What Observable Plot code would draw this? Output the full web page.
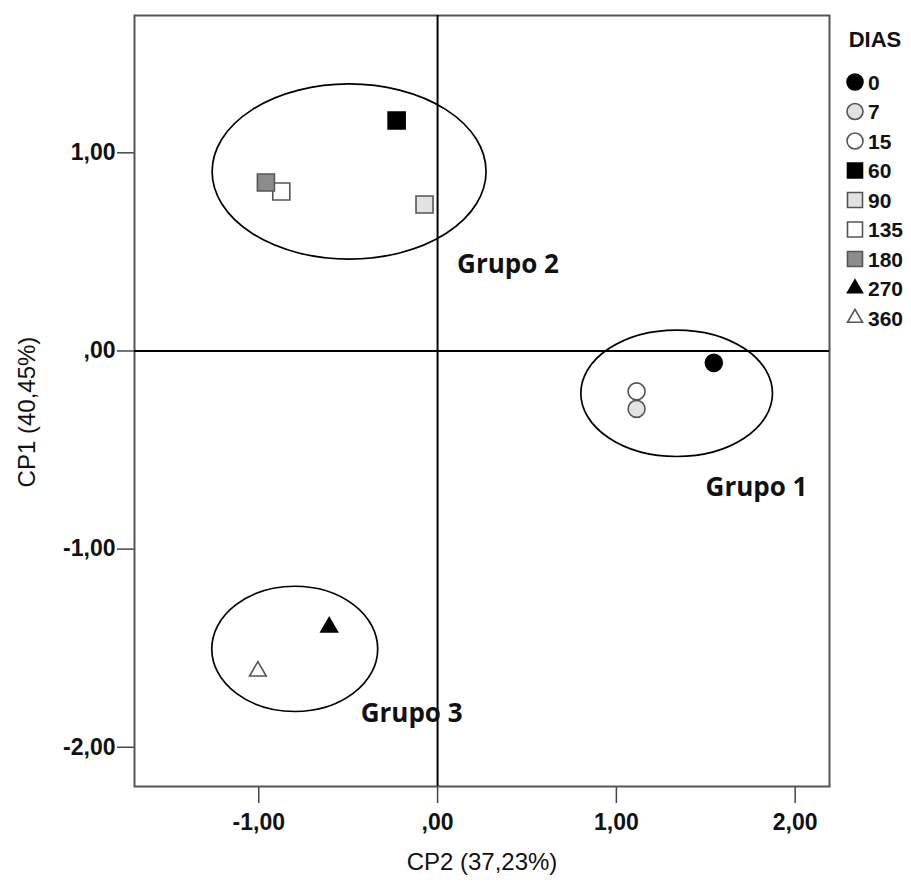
<!DOCTYPE html>
<html><head><meta charset="utf-8">
<script src="https://cdn.jsdelivr.net/npm/d3@7"></script>
<script src="https://cdn.jsdelivr.net/npm/@observablehq/plot@0.6"></script>
<style>
body{margin:0;background:#fff}
#chart{position:relative;width:911px;height:884px}
#legend{position:absolute;left:0;top:0;pointer-events:none}
</style>
</head><body><div id="chart"></div>
<script>
// Points (DIAS)
const dias = ["0","7","15","60","90","135","180","270","360"];
const cp2 = [1.545, 1.113, 1.113, -0.229, -0.073, -0.874, -0.960, -0.606, -1.005];
const cp1 = [-0.060, -0.292, -0.204, 1.163, 0.739, 0.805, 0.850, -1.394, -1.616];
const formas = ["circle","circle","circle","square","square","square","square","triangle","triangle"];
const rellenos = ["#000000","#e2e2e2","#ffffff","#000000","#e2e2e2","#ffffff","#8c8c8c","#000000","#ffffff"];
// Groups (ellipses, data units)
const grupos = ["Grupo 1","Grupo 2","Grupo 3"];
const elipseCx = [1.340, -0.492, -0.796];
const elipseCy = [-0.216, 0.903, -1.506];
const elipseRx = [0.536, 0.766, 0.464];
const elipseRy = [0.319, 0.442, 0.316];
const etiquetaX = [1.784, 0.394, -0.145];
const etiquetaY = [-0.690, 0.434, -1.829];
// Axes
const xTicks = [-1, 0, 1, 2];
const yTicks = [-2, -1, 0, 1];
const xTitulo = "CP2 (37,23%)";
const yTitulo = "CP1 (40,45%)";
const legendaTitulo = "DIAS";

const fmt = d => d === 0 ? ",00" : d.toFixed(2).replace(".", ",");
const rSimbolo = {circle: 8.5, square: 9.6, triangle: 6.2};

const puntos = dias.map((d, i) => ({dia: d, cp2: cp2[i], cp1: cp1[i], forma: formas[i], relleno: rellenos[i]}));
const elipses = grupos.map((g, i) => ({g, cx: elipseCx[i], cy: elipseCy[i], rx: elipseRx[i], ry: elipseRy[i]}));

function elipseMark(index, scales) {
  const g = d3.create("svg:g");
  for (const e of elipses) {
    g.append("ellipse")
      .attr("cx", scales.x(e.cx)).attr("cy", scales.y(e.cy))
      .attr("rx", Math.abs(scales.x(e.cx + e.rx) - scales.x(e.cx)))
      .attr("ry", Math.abs(scales.y(e.cy + e.ry) - scales.y(e.cy)))
      .attr("fill", "none").attr("stroke", "#000").attr("stroke-width", 1.7);
  }
  return g.node();
}

const dotMarks = puntos.map(p => Plot.dot([p], {
  x: "cp2", y: "cp1", symbol: p.forma, r: rSimbolo[p.forma],
  fill: p.relleno, stroke: p.relleno === "#000000" ? "#000" : "#555", strokeWidth: 1.6
}));

const hasAxis = typeof Plot.axisX === "function";
const axisFont = {fontSize: 23, fontWeight: "bold", fill: "#111"};
const axisMarks = hasAxis ? [
  Plot.axisX({ticks: xTicks, tickFormat: fmt, tickSize: 17, tickPadding: 10, label: null, stroke: "#444", strokeWidth: 1.5, ...axisFont}),
  Plot.axisY({ticks: yTicks, tickFormat: fmt, tickSize: 17, tickPadding: 2, label: null, stroke: "#444", strokeWidth: 1.5, ...axisFont})
] : [];

const plot = Plot.plot({
  width: 911, height: 884,
  marginLeft: 134, marginRight: 82, marginTop: 15, marginBottom: 98,
  style: {fontFamily: "'Liberation Sans', Arial, sans-serif", fontSize: "23px", fontWeight: "bold", color: "#000", background: "#fff", overflow: "visible"},
  x: hasAxis ? {domain: [-1.695, 2.192], axis: null}
             : {domain: [-1.695, 2.192], ticks: xTicks, tickFormat: fmt, tickSize: 17, tickPadding: 10, label: null},
  y: hasAxis ? {domain: [-2.198, 1.693], axis: null}
             : {domain: [-2.198, 1.693], ticks: yTicks, tickFormat: fmt, tickSize: 17, tickPadding: 2, label: null},
  marks: [
    ...axisMarks,
    Plot.frame({stroke: "#555", strokeWidth: 2}),
    elipseMark,
    Plot.ruleX([0], {stroke: "#000", strokeWidth: 2}),
    Plot.ruleY([0], {stroke: "#000", strokeWidth: 2}),
    ...dotMarks,
    Plot.text(grupos, {x: (d, i) => etiquetaX[i], y: (d, i) => etiquetaY[i], text: d => d,
      fontFamily: "'Open Sans', sans-serif", fontSize: 26, fontWeight: "bold", fill: "#111"}),
    Plot.text([xTitulo], {text: d => d, frameAnchor: "bottom", dy: 76, lineAnchor: "middle", textAnchor: "middle",
      fontSize: 24, fontWeight: "normal", fill: "#111"}),
    Plot.text([yTitulo], {text: d => d, frameAnchor: "left", dx: -107, dy: 11, rotate: -90, lineAnchor: "middle", textAnchor: "middle",
      fontSize: 24, fontWeight: "normal", fill: "#111"})
  ]
});
document.getElementById("chart").appendChild(plot);

// Legend
const tipos = {circle: d3.symbolCircle, square: d3.symbolSquare, triangle: d3.symbolTriangle};
const areas = {circle: Math.PI * 64, square: 225, triangle: 97};
const leg = d3.select("#chart").append("svg").attr("id", "legend").attr("width", 911).attr("height", 884)
  .style("font-family", "'Liberation Sans', Arial, sans-serif").style("font-weight", "bold");
leg.append("text").attr("x", 875).attr("y", 47).attr("text-anchor", "middle").attr("font-size", 22).attr("fill", "#111").text(legendaTitulo);
puntos.forEach((p, i) => {
  const cy = 82 + i * 29.5;
  leg.append("path").attr("transform", `translate(855,${cy})`)
    .attr("d", d3.symbol(tipos[p.forma], areas[p.forma])())
    .attr("fill", p.relleno).attr("stroke", p.relleno === "#000000" ? "#000" : "#555").attr("stroke-width", 1.6);
  leg.append("text").attr("x", 868).attr("y", cy + 7.5).attr("font-size", 21).attr("fill", "#111").text(p.dia);
});
</script>
</body></html>
